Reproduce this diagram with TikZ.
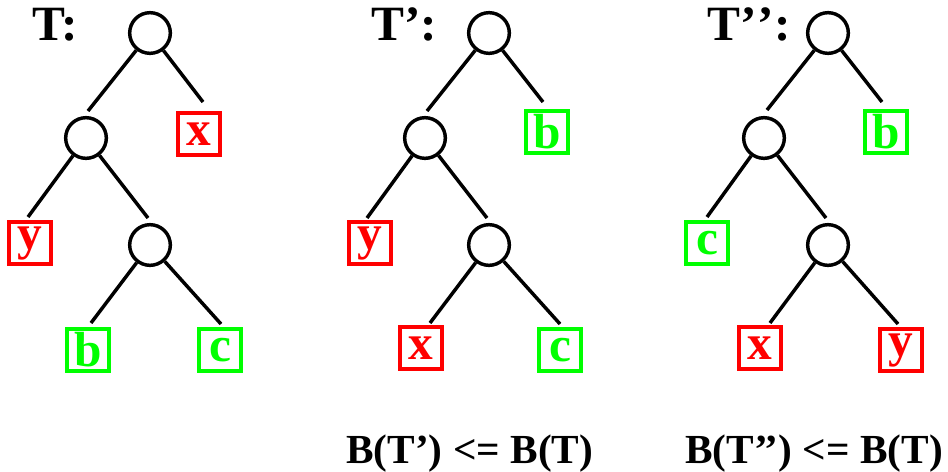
\documentclass[tikz,border=0pt]{standalone}
\usepackage{fontspec}
\setmainfont{Liberation Serif}
\definecolor{leafred}{RGB}{255,0,0}
\definecolor{leafgreen}{RGB}{0,255,0}
\begin{document}
\begin{tikzpicture}[x=0.75pt,y=-0.75pt,
  inode/.style={circle,draw=black,line width=2.6pt,minimum size=30.5pt,inner sep=0pt},
  leaf/.style={rectangle,line width=2.6pt,minimum size=31.2pt,inner sep=0pt,
    font=\fontsize{37}{37}\selectfont\bfseries},
  redleaf/.style={leaf,draw=leafred,text=leafred},
  greenleaf/.style={leaf,draw=leafgreen,text=leafgreen},
  edge/.style={line width=2.6pt,black},
  title/.style={anchor=base west,inner sep=0pt,font=\fontsize{37}{37}\selectfont\bfseries},
  caption/.style={anchor=base west,inner sep=0pt,font=\fontsize{31}{31}\selectfont\bfseries}]
\useasboundingbox (0,0) rectangle (948,471);

% ---- tree T ----
\node[title] (tA) at (32,40) {T:};
\node[inode] (rA) at (150,33) {};
\node[inode] (mA) at (86,138) {};
\node[inode] (lA) at (150,245) {};
\node[redleaf] (xA) at (199,134) {x};
\node[redleaf] (yA) at (30,243) {y};
\node[greenleaf] (bA) at (88,350) {b};
\node[greenleaf] (cA) at (220,350) {c};
\coordinate (eA1) at (88,111);
\coordinate (eA2) at (203,102);
\coordinate (eA3) at (28,217);
\coordinate (eA4) at (148,218);
\coordinate (eA5) at (91,323);
\coordinate (eA6) at (221,324);
\draw[edge] (rA) -- (eA1);
\draw[edge] (rA) -- (eA2);
\draw[edge] (mA) -- (eA3);
\draw[edge] (mA) -- (eA4);
\draw[edge] (lA) -- (eA5);
\draw[edge] (lA) -- (eA6);

% ---- tree T' ----
\node[title] (tB) at (371,40) {T’:};
\node[inode] (rB) at (489,33) {};
\node[inode] (mB) at (425,138) {};
\node[inode] (lB) at (489,245) {};
\node[greenleaf] (bB) at (547,132) {b};
\node[redleaf] (yB) at (370,243) {y};
\node[redleaf] (xB) at (421,348) {x};
\node[greenleaf] (cB) at (560,350) {c};
\coordinate (eB1) at (427,111);
\coordinate (eB2) at (543,102);
\coordinate (eB3) at (367,218);
\coordinate (eB4) at (487,218);
\coordinate (eB5) at (430,323);
\coordinate (eB6) at (560,324);
\draw[edge] (rB) -- (eB1);
\draw[edge] (rB) -- (eB2);
\draw[edge] (mB) -- (eB3);
\draw[edge] (mB) -- (eB4);
\draw[edge] (lB) -- (eB5);
\draw[edge] (lB) -- (eB6);

% ---- tree T'' ----
\node[title] (tC) at (707,40) {T’\kern1pt’:};
\node[inode] (rC) at (828,33) {};
\node[inode] (mC) at (764,138) {};
\node[inode] (lC) at (828,245) {};
\node[greenleaf] (bC) at (886,132) {b};
\node[greenleaf] (cC) at (707,243) {c};
\node[redleaf] (xC) at (760,348) {x};
\node[redleaf] (yC) at (901,350) {y};
\coordinate (eC1) at (767,110);
\coordinate (eC2) at (882,102);
\coordinate (eC3) at (707,217);
\coordinate (eC4) at (826,218);
\coordinate (eC5) at (770,323);
\coordinate (eC6) at (898,324);
\draw[edge] (rC) -- (eC1);
\draw[edge] (rC) -- (eC2);
\draw[edge] (mC) -- (eC3);
\draw[edge] (mC) -- (eC4);
\draw[edge] (lC) -- (eC5);
\draw[edge] (lC) -- (eC6);

% ---- captions ----
\node[caption] (capB) at (346,463) {B(T’) <= B(T)};
\node[caption] (capC) at (685,463) {B(T’’) <= B(T)};
\end{tikzpicture}
\end{document}
